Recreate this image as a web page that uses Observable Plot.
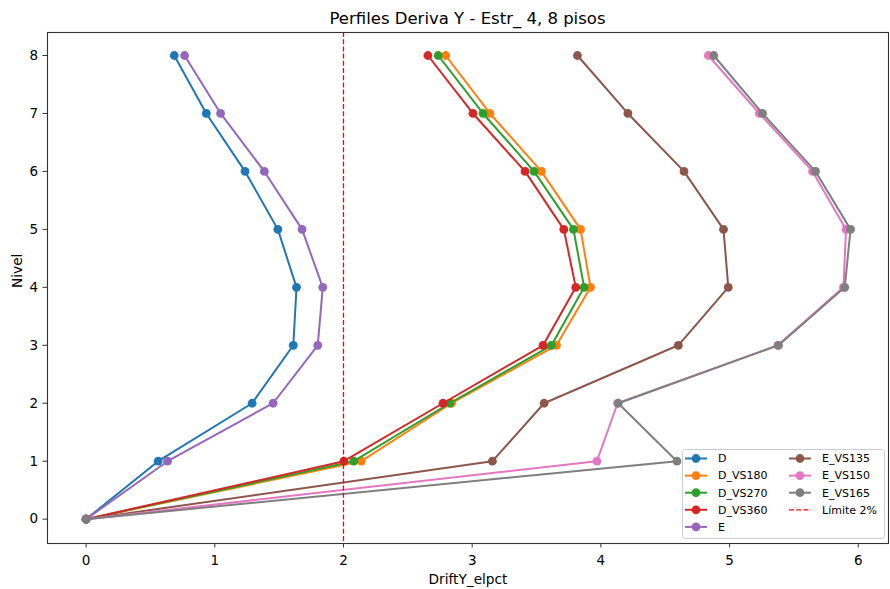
<!DOCTYPE html>
<html>
<head>
<meta charset="utf-8">
<script src="https://cdn.jsdelivr.net/npm/d3@7"></script>
<script src="https://cdn.jsdelivr.net/npm/@observablehq/plot@0.6"></script>
<style>
  html, body { margin: 0; padding: 0; background: #fff; }
  #wrap { position: relative; width: 890px; height: 589px; font-family: "DejaVu Sans", sans-serif; }
  #title { position: absolute; left: 47px; width: 841px; top: 11px; text-align: center; font-size: 16.5px; line-height: 1; color: #000; }
  #legend { position: absolute; left: 682px; top: 449px; }
</style>
</head>
<body>
<div id="wrap">
  <div id="chart"></div>
  <div id="title">Perfiles Deriva Y - Estr_ 4, 8 pisos</div>
  <div id="legend"></div>
</div>
<script>
// ---- data ----
const levels = [0, 1, 2, 3, 4, 5, 6, 7, 8];
const D        = [0, 0.56, 1.29, 1.61, 1.635, 1.49, 1.235, 0.934, 0.685];
const D_VS180  = [0, 2.138, 2.84, 3.655, 3.92, 3.842, 3.538, 3.138, 2.794];
const D_VS270  = [0, 2.08, 2.825, 3.616, 3.87, 3.787, 3.481, 3.084, 2.736];
const D_VS360  = [0, 2.003, 2.773, 3.551, 3.805, 3.712, 3.411, 3.006, 2.656];
const E        = [0, 0.633, 1.453, 1.80, 1.839, 1.678, 1.385, 1.045, 0.765];
const E_VS135  = [0, 3.157, 3.559, 4.602, 4.99, 4.953, 4.646, 4.21, 3.818];
const E_VS150  = [0, 3.969, 4.13, 5.375, 5.885, 5.905, 5.645, 5.232, 4.835];
const E_VS165  = [0, 4.591, 4.135, 5.38, 5.895, 5.94, 5.668, 5.256, 4.877];
const seriesNames = ["D", "D_VS180", "D_VS270", "D_VS360", "E", "E_VS135", "E_VS150", "E_VS165"];
const seriesValues = [D, D_VS180, D_VS270, D_VS360, E, E_VS135, E_VS150, E_VS165];
const limitValue = [2];
const limitLabel = "Límite 2%";
const xTicks = [0, 1, 2, 3, 4, 5, 6];
const yTicks = [0, 1, 2, 3, 4, 5, 6, 7, 8];

// ---- styles ----
const palette = ["#1f77b4", "#ff7f0e", "#2ca02c", "#d62728", "#9467bd", "#8c564b", "#e377c2", "#7f7f7f"];

const rows = seriesNames.flatMap((name, i) =>
  levels.map((lv, j) => ({series: name, nivel: lv, drift: seriesValues[i][j]}))
);

const seriesMarks = seriesNames.flatMap(name => {
  const data = rows.filter(d => d.series === name);
  return [
    Plot.line(data, {x: "drift", y: "nivel", stroke: "series", strokeWidth: 2}),
    Plot.dot(data, {x: "drift", y: "nivel", fill: "series", r: 4.4, stroke: "none"})
  ];
});

const chart = Plot.plot({
  width: 890,
  height: 589,
  marginTop: 32,
  marginBottom: 46,
  marginLeft: 47,
  marginRight: 2,
  style: {fontFamily: "DejaVu Sans, sans-serif", fontSize: "13.5px", color: "#000", background: "transparent"},
  x: {domain: [-0.30, 6.235]},
  y: {domain: [-0.42, 8.397]},
  color: {domain: seriesNames, range: palette},
  marks: [
    ...seriesMarks,
    Plot.ruleX(limitValue, {stroke: "red", strokeWidth: 1.3, strokeDasharray: "5,2.2"}),
    Plot.frame({stroke: "#333", strokeWidth: 1.1}),
    Plot.axisX({ticks: xTicks, tickSize: 4.5, tickPadding: 7, label: null, stroke: "#333", fontSize: 13.5, tickFormat: d3.format("d")}),
    Plot.axisY({ticks: yTicks, tickSize: 4.5, tickPadding: 5, label: null, stroke: "#333", fontSize: 13.5, tickFormat: d3.format("d")}),
    Plot.text(["DriftY_elpct"], {frameAnchor: "bottom", text: d => d, dy: 40, lineAnchor: "bottom", fontSize: 13.7}),
    Plot.text(["Nivel"], {frameAnchor: "left", text: d => d, rotate: -90, dx: -30, fontSize: 13.7})
  ]
});
document.getElementById("chart").appendChild(chart);

// ---- legend (inside axes, lower right) ----
const legendItems = seriesNames.map((n, i) => ({label: n, color: palette[i], kind: "marker"}))
  .concat([{label: limitLabel, color: "red", kind: "dash"}]);
const lw = 202, lh = 89;
const svg = d3.create("svg").attr("width", lw + 2).attr("height", lh + 2)
  .style("font-family", "DejaVu Sans, sans-serif").style("font-size", "11px");
svg.append("rect").attr("x", 0.5).attr("y", 0.5).attr("width", lw).attr("height", lh)
  .attr("rx", 3).attr("fill", "rgba(255,255,255,0.85)").attr("stroke", "#cccccc").attr("stroke-width", 1);
const perCol = 5;
legendItems.forEach((it, i) => {
  const col = Math.floor(i / perCol), row = i % perCol;
  const x0 = col === 0 ? 3 : 107;
  const y = 9.5 + row * 17.1;
  const g = svg.append("g");
  if (it.kind === "marker") {
    g.append("line").attr("x1", x0).attr("x2", x0 + 22).attr("y1", y).attr("y2", y)
      .attr("stroke", it.color).attr("stroke-width", 2);
    g.append("circle").attr("cx", x0 + 11).attr("cy", y).attr("r", 4.4).attr("fill", it.color);
  } else {
    g.append("line").attr("x1", x0).attr("x2", x0 + 22).attr("y1", y).attr("y2", y)
      .attr("stroke", it.color).attr("stroke-width", 1.3).attr("stroke-dasharray", "5,2.2");
  }
  g.append("text").attr("x", x0 + 33).attr("y", y).attr("dy", "0.35em").attr("fill", "#000").text(it.label);
});
document.getElementById("legend").appendChild(svg.node());
</script>
</body>
</html>
